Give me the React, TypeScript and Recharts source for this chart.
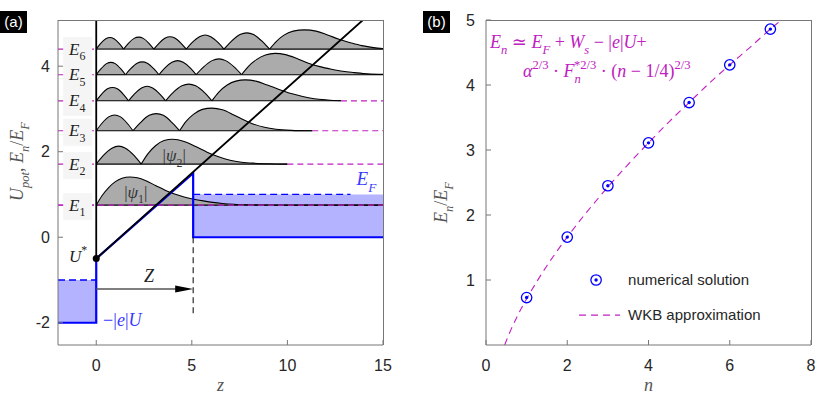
import React from 'react';
import { ComposedChart, Line, Area, XAxis, YAxis, ReferenceDot } from 'recharts';

// ---------------- Panel (a) data ----------------
const zDomain = [-2, 15];
const uDomain = [-2.52, 5.08];
const zTicks = [0, 5, 10, 15];
const uTicks = [-2, 0, 2, 4];
const levelNames = ['1', '2', '3', '4', '5', '6'];
const levelEnergies = [0.75, 1.71, 2.49, 3.19, 3.8, 4.4];

// |psi_n|: [z, amplitude above E_n]
const psi1 = [[0, 0], [0.3, 0.22], [0.65, 0.41], [1.0, 0.55], [1.35, 0.63], [1.75, 0.66], [2.15, 0.64], [2.6, 0.57], [3.1, 0.46], [3.6, 0.35], [4.1, 0.26], [4.6, 0.19], [5.1, 0.14], [5.6, 0.1], [6.1, 0.065], [6.6, 0.04], [7.2, 0.02], [8.0, 0.008], [9.0, 0.003], [10, 0.001], [15, 0]];
const psi2 = [[0, 0], [0.35, 0.19], [0.82, 0.37], [1.17, 0.42], [1.53, 0.37], [2.0, 0.19], [2.35, 0], [2.7, 0.24], [3.1, 0.43], [3.55, 0.55], [4.0, 0.58], [4.6, 0.53], [5.2, 0.41], [5.8, 0.28], [6.4, 0.17], [7.0, 0.09], [7.6, 0.045], [8.3, 0.02], [9.0, 0.007], [10.0, 0]];
const psi3 = [[0, 0], [0.29, 0.17], [0.67, 0.33], [0.96, 0.37], [1.25, 0.33], [1.63, 0.17], [1.92, 0], [2.29, 0.18], [2.77, 0.36], [3.14, 0.4], [3.51, 0.36], [3.99, 0.18], [4.36, 0], [4.7, 0.22], [5.1, 0.39], [5.55, 0.5], [6.05, 0.53], [6.6, 0.49], [7.2, 0.37], [7.7, 0.26], [8.2, 0.16], [8.8, 0.08], [9.4, 0.035], [10.2, 0.01], [11.3, 0]];
const psi4 = [[0, 0], [0.25, 0.14], [0.59, 0.28], [0.85, 0.31], [1.1, 0.28], [1.44, 0.14], [1.69, 0], [1.98, 0.15], [2.37, 0.3], [2.66, 0.34], [2.95, 0.3], [3.34, 0.15], [3.63, 0], [3.99, 0.18], [4.48, 0.35], [4.84, 0.39], [5.2, 0.35], [5.69, 0.18], [6.05, 0], [6.4, 0.2], [6.85, 0.37], [7.3, 0.46], [7.8, 0.49], [8.35, 0.46], [8.95, 0.37], [9.6, 0.26], [10.2, 0.17], [10.8, 0.1], [11.4, 0.05], [12.1, 0.02], [12.8, 0]];
const psi5 = [[0, 0], [0.23, 0.13], [0.54, 0.26], [0.77, 0.29], [0.99, 0.26], [1.3, 0.13], [1.53, 0], [1.79, 0.135], [2.14, 0.27], [2.41, 0.3], [2.67, 0.27], [3.02, 0.135], [3.28, 0], [3.57, 0.15], [3.96, 0.29], [4.26, 0.33], [4.55, 0.29], [4.94, 0.15], [5.23, 0], [5.59, 0.17], [6.06, 0.33], [6.42, 0.37], [6.77, 0.33], [7.24, 0.17], [7.6, 0], [7.95, 0.19], [8.4, 0.36], [8.85, 0.46], [9.35, 0.5], [9.9, 0.47], [10.5, 0.38], [11.1, 0.27], [11.7, 0.19], [12.3, 0.13], [12.9, 0.08], [13.5, 0.05], [14.2, 0.02], [15, 0.008]];
const psi6 = [[0, 0], [0.21, 0.12], [0.5, 0.24], [0.72, 0.27], [0.93, 0.24], [1.22, 0.12], [1.43, 0], [1.67, 0.13], [1.98, 0.25], [2.22, 0.28], [2.46, 0.25], [2.77, 0.13], [3.01, 0], [3.27, 0.13], [3.61, 0.26], [3.86, 0.29], [4.11, 0.26], [4.45, 0.13], [4.71, 0], [5.01, 0.15], [5.4, 0.29], [5.7, 0.33], [5.99, 0.29], [6.38, 0.15], [6.68, 0], [7.04, 0.17], [7.52, 0.34], [7.88, 0.38], [8.23, 0.34], [8.71, 0.17], [9.07, 0], [9.4, 0.17], [9.8, 0.32], [10.3, 0.42], [10.9, 0.45], [11.5, 0.42], [12.1, 0.33], [12.7, 0.23], [13.3, 0.15], [13.9, 0.08], [14.5, 0.035], [15, 0.015]];
const psiList = [psi1, psi2, psi3, psi4, psi5, psi6];

// potential profile (blue) and band bending line (black)
const bluePotZ = [-2, 0, 0, 5.07, 5.07, 15];
const bluePotU = [-2, -2, -0.5, 1.5, 0, 0];
const blackPotZ = [0, 0, 13.95];
const blackPotU = [5.08, -0.5, 5.08];
const leftMetalZ = [-2, 0];
const leftMetalBand = [-2, -1];
const rightMetalZ = [5.07, 15];
const rightMetalBand = [0, 1.0];
const leftFermiZ = [-2, 0];
const rightFermiZ = [5.07, 13.3];
const wallZ = [5.07, 5.07];
const wallU = [0, -1.8];
const arrowY = -1.21;
const arrowZ = [0, 4.3];
const arrowTipZ = 5.07;
const uStar = { z: 0, u: -0.5 };

// ---------------- Panel (b) data ----------------
const nDomain = [0, 8];
const eDomain = [0, 5];
const nTicks = [0, 2, 4, 6, 8];
const eTicks = [1, 2, 3, 4, 5];
const nLevels = [1, 2, 3, 4, 5, 6, 7];
const enNumerical = [0.73, 1.66, 2.45, 3.11, 3.73, 4.31, 4.86];
const wkbN = [0.46, 0.5, 0.6, 0.75, 0.9, 1, 1.25, 1.5, 1.75, 2, 2.5, 3, 3.5, 4, 4.5, 5, 5.5, 6, 6.5, 7, 7.25];
const wkbE = [0, 0.065, 0.215, 0.416, 0.6, 0.71, 0.975, 1.22, 1.446, 1.66, 2.06, 2.43, 2.78, 3.11, 3.43, 3.73, 4.03, 4.31, 4.58, 4.86, 4.99];

// ---------------- helpers ----------------
const SERIF = '"Liberation Serif", "DejaVu Serif", serif';
const SANS = '"Liberation Sans", Arial, sans-serif';
const AXIS = '#777777';
const TICKC = '#262626';
const MAG = '#c020c0';
const BLUE = '#0000ff';
const FILLBLUE = '#b3b3ff';

const pts = (zs: number[], us: number[]) => zs.map((z, i) => ({ z, y: us[i] }));

function splitLobes(psi: number[][]) {
  const lobes: number[][][] = [];
  let cur: number[][] = [psi[0]];
  for (let i = 1; i < psi.length; i++) {
    cur.push(psi[i]);
    if (psi[i][1] === 0 && i < psi.length - 1) {
      lobes.push(cur);
      cur = [psi[i]];
    }
  }
  lobes.push(cur);
  return lobes;
}

type Part = [string, string, number?];
function mathSpans(parts: Part[], fs: number) {
  let level = 0;
  return parts.map((p, i) => {
    const [txt, kind, dx] = p;
    const target = kind.startsWith('sub') ? fs * 0.32 : kind.startsWith('sup') ? -fs * 0.42 : 0;
    const dy = target - level;
    level = target;
    const small = target !== 0;
    return (
      <tspan key={i} dy={dy} dx={dx} fontSize={small ? fs * 0.7 : fs} fontStyle={kind.endsWith('i') ? 'italic' : 'normal'} style={{ whiteSpace: 'pre' }}>
        {txt}
      </tspan>
    );
  });
}

const tickStyle = { fill: TICKC, fontSize: 16, fontFamily: SANS };

// chart geometry
const A_W = 400, A_H = 398, A_MARGIN = { top: 20, right: 17, bottom: 23, left: 0 }, A_YW = 58;
const B_W = 397, B_H = 398, B_MARGIN = { top: 20, right: 6, bottom: 23, left: 0 }, B_YW = 66;
const X_H = 30;
const B_LEFT = 420;

function PanelA() {
  return (
    <ComposedChart width={A_W} height={A_H} margin={A_MARGIN}>
      <XAxis dataKey="z" type="number" domain={zDomain} allowDataOverflow ticks={zTicks} interval={0}
        height={X_H} stroke={AXIS} tickSize={-5} tickMargin={20} tick={tickStyle}
        label={{ content: (p: any) => (
          <text x={p.viewBox.x + p.viewBox.width / 2} y={p.viewBox.y + p.viewBox.height + 16} textAnchor="middle" fontFamily={SERIF} fontStyle="italic" fontSize={18} fill="#555">z</text>
        ) }} />
      <YAxis type="number" domain={uDomain} allowDataOverflow ticks={uTicks} interval={0} width={A_YW}
        stroke={AXIS} tickSize={-5} tickMargin={13} tick={tickStyle}
        label={{ content: (p: any) => {
          const cx = p.viewBox.x + 23;
          const cy = p.viewBox.y + p.viewBox.height / 2 - 21;
          return (
            <text x={cx} y={cy} transform={`rotate(-90 ${cx} ${cy})`} textAnchor="middle" fontFamily={SERIF} fontSize={18} fill="#555">
              {mathSpans([['U', 'i'], ['pot', 'subi'], [', ', 'r'], ['E', 'i'], ['n', 'subi'], ['/', 'r'], ['E', 'i'], ['F', 'subi']], 18)}
            </text>
          );
        } }} />

      {/* metal electron seas */}
      <Area data={leftMetalZ.map((z) => ({ z, v: leftMetalBand }))} dataKey="v" type="linear" stroke="none" fill={FILLBLUE} fillOpacity={1} isAnimationActive={false} dot={false} activeDot={false} />
      <Area data={rightMetalZ.map((z) => ({ z, v: rightMetalBand }))} dataKey="v" type="linear" stroke="none" fill={FILLBLUE} fillOpacity={1} isAnimationActive={false} dot={false} activeDot={false} />

      {/* magenta energy levels where no wavefunction baseline covers them */}
      {levelEnergies.map((E, k) => (
        <Line key={'ml' + k} data={pts([-2, 0], [E, E])} dataKey="y" stroke={MAG} strokeWidth={1.2} strokeDasharray="6 4" dot={false} activeDot={false} isAnimationActive={false} />
      ))}
      {levelEnergies.map((E, k) => {
        const end = psiList[k][psiList[k].length - 1][0];
        if (end >= 15) return null;
        return (
          <Line key={'mr' + k} data={pts([end, 15], [E, E])} dataKey="y" stroke={MAG} strokeWidth={1.2} strokeDasharray="6 4" dot={false} activeDot={false} isAnimationActive={false} />
        );
      })}
      <Line data={pts([-2, 15], [levelEnergies[0], levelEnergies[0]])} dataKey="y" stroke={MAG} strokeWidth={1.2} strokeDasharray="6 4" dot={false} activeDot={false} isAnimationActive={false} />

      {/* wavefunctions */}
      {psiList.map((psi, k) =>
        splitLobes(psi).map((lobe, j) => (
          <Area key={`w${k}-${j}`} data={lobe.map(([z, a]) => ({ z, v: [levelEnergies[k], levelEnergies[k] + a] }))}
            dataKey="v" type="monotone" stroke="#000" strokeWidth={1.1} fill="#ababab" fillOpacity={1}
            isAnimationActive={false} dot={false} activeDot={false} />
        ))
      )}

      {/* Fermi levels */}
      <Line data={pts(leftFermiZ, [leftMetalBand[1], leftMetalBand[1]])} dataKey="y" stroke={BLUE} strokeWidth={1.3} strokeDasharray="7 4" dot={false} activeDot={false} isAnimationActive={false} />
      <Line data={pts(rightFermiZ, [rightMetalBand[1], rightMetalBand[1]])} dataKey="y" stroke={BLUE} strokeWidth={1.3} strokeDasharray="7 4" dot={false} activeDot={false} isAnimationActive={false} />

      {/* potential */}
      <Line data={pts(bluePotZ, bluePotU)} dataKey="y" type="linear" stroke={BLUE} strokeWidth={2.2} dot={false} activeDot={false} isAnimationActive={false} />
      <Line data={pts(blackPotZ, blackPotU)} dataKey="y" type="linear" stroke="#000" strokeWidth={1.8} dot={false} activeDot={false} isAnimationActive={false} />

      {/* barrier width */}
      <Line data={pts(wallZ, wallU)} dataKey="y" stroke="#000" strokeWidth={1} strokeDasharray="6 4" dot={false} activeDot={false} isAnimationActive={false} />
      <Line data={pts(arrowZ, [arrowY, arrowY])} dataKey="y" stroke="#555" strokeWidth={1.5} dot={false} activeDot={false} isAnimationActive={false} />
      <ReferenceDot x={arrowTipZ} y={arrowY} r={0} shape={(p: any) => (
        <polygon points={`${p.cx},${p.cy} ${p.cx - 18},${p.cy - 3.5} ${p.cx - 18},${p.cy + 3.5}`} fill="#000" />
      )} />

      {/* level labels */}
      {levelEnergies.map((E, k) => (
        <ReferenceDot key={'lab' + k} x={-1} y={E} r={0} shape={(p: any) => (
          <g>
            <rect x={p.cx - 14} y={p.cy - 12} width={29} height={27} fill="#f5f5f5" />
            <text x={p.cx - 8} y={p.cy + 5.5} fontFamily={SERIF} fontSize={17} fill="#222">
              {mathSpans([['E', 'i'], [levelNames[k], 'subr']], 17)}
            </text>
          </g>
        )} />
      ))}

      {/* annotations */}
      <ReferenceDot x={uStar.z} y={uStar.u} r={0} shape={(p: any) => (
        <g>
          <circle cx={p.cx} cy={p.cy} r={3.5} fill="#000" />
          <text x={p.cx - 9} y={p.cy + 3} textAnchor="end" fontFamily={SERIF} fontSize={17} fill="#222">
            {mathSpans([['U', 'i'], ['*', 'supr']], 17)}
          </text>
        </g>
      )} />
      <ReferenceDot x={2.76} y={-1.05} r={0} shape={(p: any) => (
        <text x={p.cx} y={p.cy} textAnchor="middle" fontFamily={SERIF} fontStyle="italic" fontSize={18} fill="#222">Z</text>
      )} />
      <ReferenceDot x={0.36} y={-2.08} r={0} shape={(p: any) => (
        <text x={p.cx} y={p.cy} fontFamily={SERIF} fontSize={18} fill="#3a3aff">
          {mathSpans([['−|', 'r'], ['e', 'i'], ['|', 'r'], ['U', 'i']], 18)}
        </text>
      )} />
      <ReferenceDot x={13.62} y={1.21} r={0} shape={(p: any) => (
        <text x={p.cx} y={p.cy} fontFamily={SERIF} fontSize={19} fill="#3a3aff">
          {mathSpans([['E', 'i'], ['F', 'subi']], 19)}
        </text>
      )} />
      <ReferenceDot x={2.07} y={0.92} r={0} shape={(p: any) => (
        <text x={p.cx} y={p.cy} textAnchor="middle" fontFamily={SERIF} fontSize={17} fill="#333">
          {mathSpans([['|', 'r'], ['ψ', 'i'], ['1', 'subr'], ['|', 'r']], 17)}
        </text>
      )} />
      <ReferenceDot x={4.08} y={1.78} r={0} shape={(p: any) => (
        <text x={p.cx} y={p.cy} textAnchor="middle" fontFamily={SERIF} fontSize={17} fill="#333">
          {mathSpans([['|', 'r'], ['ψ', 'i'], ['2', 'subr'], ['|', 'r']], 17)}
        </text>
      )} />
    </ComposedChart>
  );
}

const markerShape = (p: any) => (
  <g>
    <circle cx={p.cx} cy={p.cy} r={5.2} fill="none" stroke={BLUE} strokeWidth={1.3} />
    <circle cx={p.cx} cy={p.cy} r={1.7} fill={BLUE} />
  </g>
);

function PanelB() {
  const wkbData = wkbN.map((n, i) => ({ n, e: wkbE[i] }));
  return (
    <ComposedChart width={B_W} height={B_H} margin={B_MARGIN}>
      <XAxis dataKey="n" type="number" domain={nDomain} allowDataOverflow ticks={nTicks} interval={0}
        height={X_H} stroke={AXIS} tickSize={-5} tickMargin={20} tick={tickStyle}
        label={{ content: (p: any) => (
          <text x={p.viewBox.x + p.viewBox.width / 2} y={p.viewBox.y + p.viewBox.height + 16} textAnchor="middle" fontFamily={SERIF} fontStyle="italic" fontSize={18} fill="#555">n</text>
        ) }} />
      <YAxis type="number" domain={eDomain} allowDataOverflow ticks={eTicks} interval={0} width={B_YW}
        stroke={AXIS} tickSize={-5} tickMargin={16} tick={tickStyle}
        label={{ content: (p: any) => {
          const cx = p.viewBox.x + 27;
          const cy = p.viewBox.y + p.viewBox.height / 2 + 20;
          return (
            <text x={cx} y={cy} transform={`rotate(-90 ${cx} ${cy})`} textAnchor="middle" fontFamily={SERIF} fontSize={18} fill="#555">
              {mathSpans([['E', 'i'], ['n', 'subi'], ['/', 'r'], ['E', 'i'], ['F', 'subi']], 18)}
            </text>
          );
        } }} />

      <Line data={wkbData} dataKey="e" type="monotone" stroke={MAG} strokeWidth={1.1}
        strokeDasharray="7 5" dot={false} activeDot={false} isAnimationActive={false} />
      <Line data={nLevels.map((n, i) => ({ n, e: enNumerical[i] }))} dataKey="e" stroke="none"
        dot={markerShape} activeDot={false} isAnimationActive={false} />

      {/* formula */}
      <ReferenceDot x={0.1} y={4.57} r={0} shape={(p: any) => (
        <g fontFamily={SERIF} fill={MAG}>
          <text x={p.cx} y={p.cy} fontSize={18}>
            {mathSpans([['E', 'i'], ['n', 'subi'], [' ≃ ', 'r'], ['E', 'i'], ['F', 'subi'], [' + ', 'r'], ['W', 'i'], ['s', 'subi'], [' − |', 'r'], ['e', 'i'], ['|', 'r'], ['U', 'i'], ['+', 'r']], 18)}
          </text>
          <text x={p.cx + 33} y={p.cy + 29} fontSize={18}>
            {mathSpans([['α', 'i'], ['2/3', 'supr'], [' · ', 'r'], ['F', 'i'], ['n', 'subi'], ['*2/3', 'supr', -7], [' · (', 'r'], ['n', 'i'], [' − 1/4)', 'r'], ['2/3', 'supr']], 18)}
          </text>
        </g>
      )} />

      {/* legend */}
      <ReferenceDot x={2.71} y={1.0} r={0} shape={(p: any) => (
        <g>
          {markerShape(p)}
          <text x={p.cx + 32} y={p.cy + 5} fontFamily={SANS} fontSize={15} fill={TICKC}>numerical solution</text>
        </g>
      )} />
      <ReferenceDot x={2.29} y={0.46} r={0} shape={(p: any) => (
        <g>
          <line x1={p.cx} y1={p.cy} x2={p.cx + 41} y2={p.cy} stroke={MAG} strokeWidth={1.1} strokeDasharray="7 5" />
          <text x={p.cx + 49} y={p.cy + 5} fontFamily={SANS} fontSize={15} fill={TICKC}>WKB approximation</text>
        </g>
      )} />
    </ComposedChart>
  );
}

const tagStyle: React.CSSProperties = {
  position: 'absolute', background: '#000', color: '#fff', fontFamily: SANS, fontSize: 15,
  width: 27, height: 22, lineHeight: '22px', textAlign: 'center',
};

// top/right edges of each axes box, as a CSS overlay on the plot area
function frameStyle(left: number, w: number, h: number, m: any, yW: number): React.CSSProperties {
  return {
    position: 'absolute', pointerEvents: 'none', boxSizing: 'border-box',
    left: left + m.left + yW, top: m.top,
    width: w - m.left - m.right - yW + 0.5, height: h - m.top - m.bottom - X_H,
    borderTop: `1px solid ${AXIS}`, borderRight: `1px solid ${AXIS}`,
  };
}

export default function App() {
  return (
    <div style={{ position: 'absolute', left: 0, top: 0, width: 817, height: 398, background: '#fff', overflow: 'hidden' }}>
      <div style={{ position: 'absolute', left: 0, top: 0 }}><PanelA /></div>
      <div style={{ position: 'absolute', left: B_LEFT, top: 0 }}><PanelB /></div>
      <div style={frameStyle(0, A_W, A_H, A_MARGIN, A_YW)} />
      <div style={frameStyle(B_LEFT, B_W, B_H, B_MARGIN, B_YW)} />
      <div style={{ ...tagStyle, left: 0, top: 11 }}>(a)</div>
      <div style={{ ...tagStyle, left: 423, top: 11 }}>(b)</div>
    </div>
  );
}
